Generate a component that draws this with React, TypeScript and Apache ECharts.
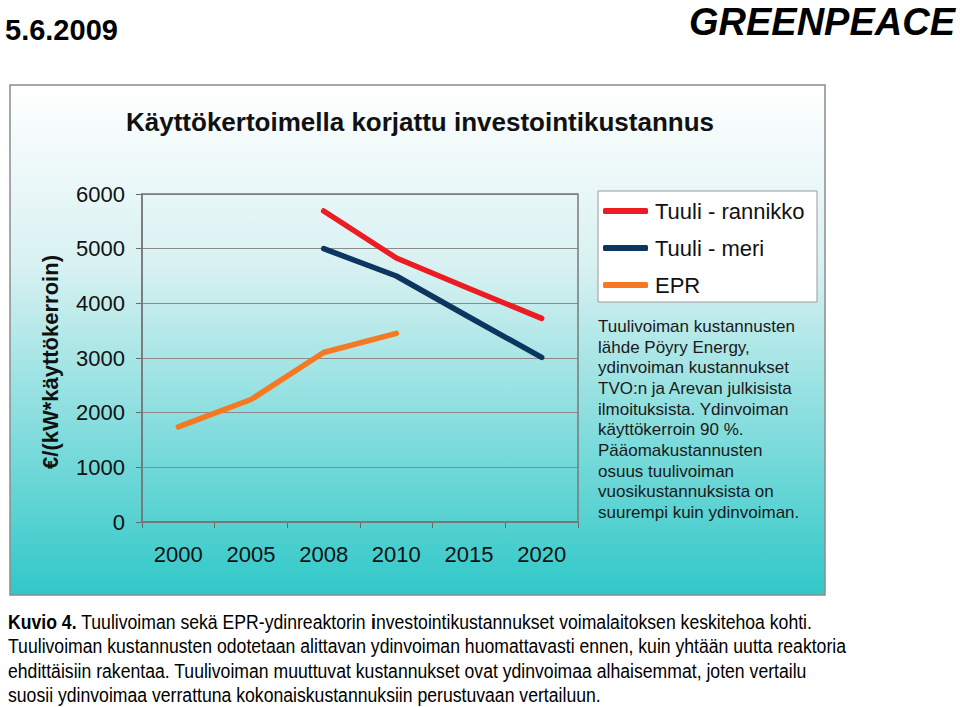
import React, { useEffect, useRef } from "react";
import * as echarts from "echarts";

const years = ["2000", "2005", "2008", "2010", "2015", "2020"];
const tuuliRannikko = [null, null, 5690, 4830, 4270, 3725];
const tuuliMeri = [null, null, 5000, 4500, 3750, 3010];
const epr = [1740, 2240, 3100, 3450, null, null];
const yTicks = { min: 0, max: 6000, interval: 1000 };

const seriesNames = ["Tuuli - rannikko", "Tuuli - meri", "EPR"];
const seriesColors = ["#ec1c24", "#0c3560", "#f57920"];

const titleText = "Käyttökertoimella korjattu investointikustannus";
const yAxisTitle = "€/(kW*käyttökerroin)";
const noteLines = [
  "Tuulivoiman kustannusten",
  "lähde Pöyry Energy,",
  "ydinvoiman kustannukset",
  "TVO:n ja Arevan julkisista",
  "ilmoituksista. Ydinvoiman",
  "käyttökerroin 90 %.",
  "Pääomakustannusten",
  "osuus tuulivoiman",
  "vuosikustannuksista on",
  "suurempi kuin ydinvoiman.",
];
const captionLines = [
  "{b|Kuvio 4.} Tuulivoiman sekä EPR-ydinreaktorin {b|i}nvestointikustannukset voimalaitoksen keskitehoa kohti.",
  "Tuulivoiman kustannusten odotetaan alittavan ydinvoiman huomattavasti ennen, kuin yhtään uutta reaktoria",
  "ehdittäisiin rakentaa. Tuulivoiman muuttuvat kustannukset ovat ydinvoimaa alhaisemmat, joten vertailu",
  "suosii ydinvoimaa verrattuna kokonaiskustannuksiin perustuvaan vertailuun.",
];
const dateText = "5.6.2009";
const logoText = "GREENPEACE";

const FONT = "'Liberation Sans', Arial, Helvetica, sans-serif";
const NARROW = "'Liberation Sans Narrow', 'Arial Narrow', 'Liberation Sans', sans-serif";

export default function App() {
  const ref = useRef<HTMLDivElement>(null);
  useEffect(() => {
    if (!ref.current) return;
    const chart = echarts.init(ref.current, undefined, { renderer: "svg" });
    const data = [tuuliRannikko, tuuliMeri, epr];
    chart.setOption({
      animation: false,
      backgroundColor: "#ffffff",
      textStyle: { fontFamily: FONT },
      grid: {
        left: 142,
        top: 194,
        right: 960 - 578,
        bottom: 707 - 522,
        show: true,
        borderColor: "#7a7a7a",
        borderWidth: 1.5,
        backgroundColor: "transparent",
        z: 3,
      },
      xAxis: {
        type: "category",
        data: years,
        boundaryGap: true,
        axisLine: { lineStyle: { color: "#6a6a6a", width: 1.5 } },
        axisTick: { show: true, interval: 0, length: 6, lineStyle: { color: "#6a6a6a" } },
        axisLabel: { fontSize: 22, color: "#111", margin: 21, fontFamily: FONT },
      },
      yAxis: {
        type: "value",
        min: yTicks.min,
        max: yTicks.max,
        interval: yTicks.interval,
        axisLine: { show: true, lineStyle: { color: "#6a6a6a", width: 1.5 } },
        axisTick: { show: true, length: 6, lineStyle: { color: "#6a6a6a" } },
        axisLabel: {
          fontSize: 22,
          color: "#111",
          margin: 17,
          fontFamily: FONT,
          formatter: (v: number) => String(v),
        },
        splitLine: { show: true, lineStyle: { color: "#8a8a8a", width: 1 } },
      },
      legend: {
        orient: "vertical",
        left: 598,
        top: 191,
        padding: [7, 5, 5, 5],
        itemGap: 11,
        itemWidth: 45,
        itemHeight: 6,
        icon: "roundRect",
        data: seriesNames,
        textStyle: { fontSize: 22, color: "#111", lineHeight: 26, fontFamily: FONT, padding: [0, 0, 0, 2] },
        z: 10,
      },
      series: seriesNames.map((name, i) => ({
        name,
        type: "line",
        data: data[i],
        showSymbol: false,
        symbol: "none",
        connectNulls: false,
        lineStyle: { width: 5.5, color: seriesColors[i], cap: "round", join: "round" },
        itemStyle: { color: seriesColors[i] },
        z: 5,
      })),
      graphic: [
        {
          type: "rect",
          z: -10,
          silent: true,
          shape: { x: 10, y: 85, width: 815, height: 510 },
          style: {
            fill: new echarts.graphic.LinearGradient(0, 0, 0, 1, [
              { offset: 0, color: "#ffffff" },
              { offset: 0.35, color: "#d9f1f2" },
              { offset: 1, color: "#30c8c8" },
            ]),
            stroke: "#8c8c8c",
            lineWidth: 1.5,
          },
        },
        {
          type: "rect",
          z: 1,
          silent: true,
          shape: { x: 598, y: 191, width: 219, height: 111 },
          style: { fill: "#ffffff", stroke: "#9a9a9a", lineWidth: 1 },
        },
        {
          type: "text",
          z: 10,
          x: 420,
          y: 122,
          style: {
            text: titleText,
            fontSize: 26,
            fontWeight: "bold",
            fill: "#111",
            align: "center",
            verticalAlign: "middle",
            fontFamily: FONT,
          },
        },
        {
          type: "text",
          z: 10,
          x: 50,
          y: 362,
          rotation: Math.PI / 2,
          style: {
            text: yAxisTitle,
            fontSize: 22,
            fontWeight: "bold",
            fill: "#111",
            align: "center",
            verticalAlign: "middle",
            fontFamily: FONT,
          },
        },
        {
          type: "text",
          z: 10,
          x: 598,
          y: 316,
          style: {
            text: noteLines.join("\n"),
            fontSize: 17,
            lineHeight: 20.7,
            fill: "#1a1a1a",
            align: "left",
            verticalAlign: "top",
            fontFamily: FONT,
          },
        },
        ...captionLines.map((line, i) => ({
          type: "text",
          z: 10,
          x: 8,
          y: 621 + i * 24.5,
          scaleX: 0.84,
          style: {
            text: line,
            fontSize: 21,
            fill: "#000",
            align: "left",
            verticalAlign: "middle",
            fontFamily: NARROW,
            rich: {
              b: { fontSize: 21, fontWeight: "bold", fill: "#000", fontFamily: NARROW },
            },
          },
        })),
        {
          type: "text",
          z: 10,
          x: 5,
          y: 30,
          style: {
            text: dateText,
            fontSize: 29,
            fontWeight: "bold",
            fill: "#000",
            align: "left",
            verticalAlign: "middle",
            fontFamily: FONT,
          },
        },
        {
          type: "text",
          z: 10,
          x: 955,
          y: 22,
          style: {
            text: logoText,
            fontSize: 38,
            fontWeight: "bold",
            fontStyle: "italic",
            fill: "#000",
            align: "right",
            verticalAlign: "middle",
            fontFamily: FONT,
          },
        },
      ],
    });
    return () => chart.dispose();
  }, []);
  return (
    <div
      ref={ref}
      style={{ position: "fixed", left: 0, top: 0, width: 960, height: 707 }}
    />
  );
}
